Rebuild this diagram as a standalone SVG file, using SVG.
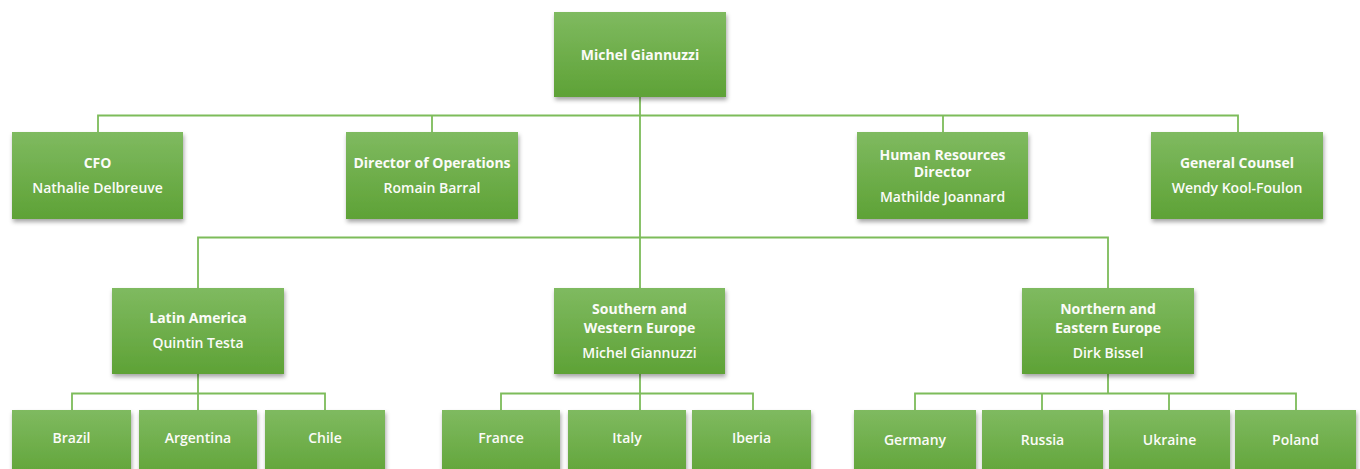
<svg xmlns="http://www.w3.org/2000/svg" width="1360" height="469" viewBox="0 0 1360 469">
<defs>
<linearGradient id="g" x1="0" y1="0" x2="0" y2="1">
<stop offset="0" stop-color="#7fba60"/>
<stop offset="1" stop-color="#5ea236"/>
</linearGradient>
<linearGradient id="gl" x1="0" y1="0" x2="0" y2="1">
<stop offset="0" stop-color="#7fba60"/>
<stop offset="1" stop-color="#62a53a"/>
</linearGradient>
<filter id="sh" x="-10%" y="-10%" width="125%" height="135%">
<feDropShadow dx="1" dy="3" stdDeviation="2" flood-color="#000" flood-opacity="0.35"/>
</filter>
</defs>
<style>
.b{fill:url(#g);filter:url(#sh)}
.l{fill:url(#gl);filter:url(#sh)}
.t{font-family:"Open Sans","Liberation Sans",sans-serif;font-size:14px;fill:#fbfbf8;text-anchor:middle}
.h{font-weight:700}
.n{font-weight:600}
.c{fill:none;stroke:#7dbc5a;stroke-width:1.8}
</style>
<rect width="1360" height="469" fill="#fff"/>
<g id="connectors">
<path class="c" d="M640 97V410M98 132V115.5H1238V132M432 115.5V132M943 115.5V132M198 288V237.5H1108V288"/>
<path class="c" d="M198 374V410M72 410V393.5H325V410"/>
<path class="c" d="M501 410V393.5H753V410"/>
<path class="c" d="M1108 374V393.5M915 410V393.5H1296V410M1042 393.5V410M1169 393.5V410"/>
</g>
<g id="n-michel"><rect class="b" x="554" y="12" width="172" height="85"/><text class="t h" x="640" y="60">Michel Giannuzzi</text></g>
<g id="n-cfo"><rect class="b" x="12" y="132" width="171" height="87"/><text class="t h" x="97.5" y="168">CFO</text><text class="t n" x="97.5" y="193">Nathalie Delbreuve</text></g>
<g id="n-ops"><rect class="b" x="346" y="132" width="172" height="87"/><text class="t h" x="432" y="168">Director of Operations</text><text class="t n" x="432" y="193">Romain Barral</text></g>
<g id="n-hr"><rect class="b" x="857" y="132" width="171" height="87"/><text class="t h" x="942.5" y="160">Human Resources</text><text class="t h" x="942.5" y="177">Director</text><text class="t n" x="942.5" y="202">Mathilde Joannard</text></g>
<g id="n-gc"><rect class="b" x="1151" y="132" width="172" height="87"/><text class="t h" x="1237" y="168">General Counsel</text><text class="t n" x="1237" y="193">Wendy Kool-Foulon</text></g>
<g id="n-latam"><rect class="b" x="112" y="288" width="172" height="86"/><text class="t h" x="198" y="323">Latin America</text><text class="t n" x="198" y="348">Quintin Testa</text></g>
<g id="n-swe"><rect class="b" x="554" y="288" width="171" height="86"/><text class="t h" x="639.5" y="314">Southern and</text><text class="t h" x="639.5" y="333">Western Europe</text><text class="t n" x="639.5" y="358">Michel Giannuzzi</text></g>
<g id="n-nee"><rect class="b" x="1022" y="288" width="172" height="86"/><text class="t h" x="1108" y="314">Northern and</text><text class="t h" x="1108" y="333">Eastern Europe</text><text class="t n" x="1108" y="358">Dirk Bissel</text></g>
<g id="n-brazil"><rect class="l" x="12" y="410" width="119" height="64"/><text class="t n" x="71.5" y="443">Brazil</text></g>
<g id="n-argentina"><rect class="l" x="139" y="410" width="118" height="64"/><text class="t n" x="198" y="443">Argentina</text></g>
<g id="n-chile"><rect class="l" x="265" y="410" width="120" height="64"/><text class="t n" x="325" y="443">Chile</text></g>
<g id="n-france"><rect class="l" x="442" y="410" width="118" height="64"/><text class="t n" x="501" y="443">France</text></g>
<g id="n-italy"><rect class="l" x="568" y="410" width="118" height="64"/><text class="t n" x="627" y="443">Italy</text></g>
<g id="n-iberia"><rect class="l" x="692" y="410" width="119" height="64"/><text class="t n" x="751.5" y="443">Iberia</text></g>
<g id="n-germany"><rect class="l" x="854" y="410" width="122" height="64"/><text class="t n" x="915" y="445">Germany</text></g>
<g id="n-russia"><rect class="l" x="982" y="410" width="121" height="64"/><text class="t n" x="1042.5" y="445">Russia</text></g>
<g id="n-ukraine"><rect class="l" x="1109" y="410" width="121" height="64"/><text class="t n" x="1169.5" y="445">Ukraine</text></g>
<g id="n-poland"><rect class="l" x="1235" y="410" width="121" height="64"/><text class="t n" x="1295.5" y="445">Poland</text></g>
</svg>
